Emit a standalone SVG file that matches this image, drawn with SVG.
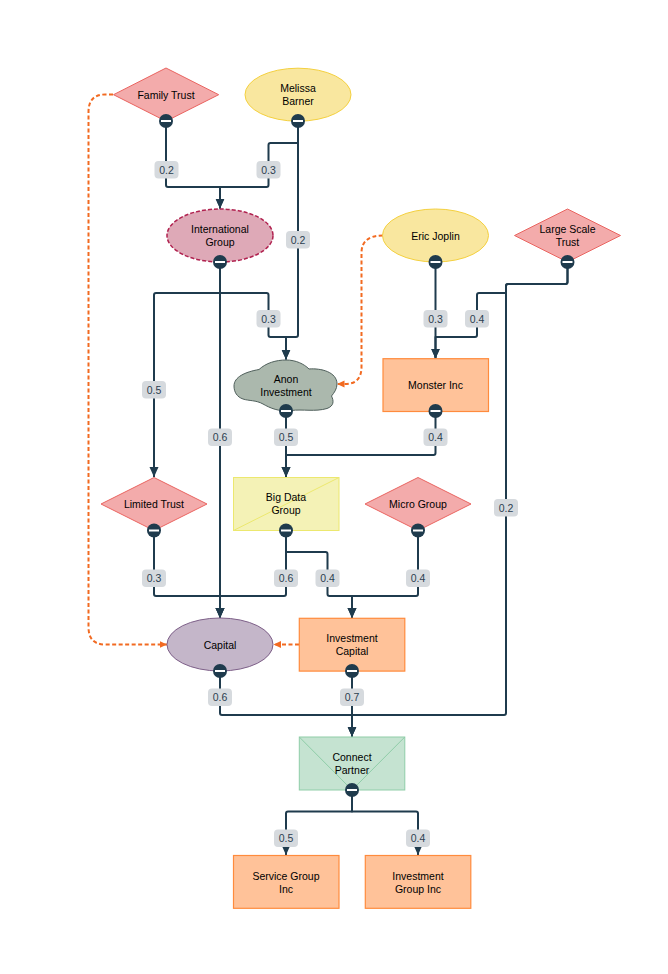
<svg xmlns="http://www.w3.org/2000/svg" width="668" height="974" viewBox="0 0 668 974">
<style>
text{font-family:"Liberation Sans",Arial,sans-serif;font-size:10.500px;text-anchor:middle;fill:#000}
.e{fill:none;stroke:#1f3b4d;stroke-width:2;stroke-linejoin:round}
.a{marker-end:url(#ah)}
.d{fill:none;stroke:#f26a21;stroke-width:2;stroke-dasharray:4 2.500;marker-end:url(#oh)}
.dia{fill:#f3abab;stroke:#ea6460;stroke-width:1}
.yel{fill:#f9e79f;stroke:#f4d03f;stroke-width:1}
.org{fill:#ffc299;stroke:#ff8b3d;stroke-width:1.200}
.lb rect{fill:#d6dade}
.lb text{fill:#2c3e50;font-size:10.500px}
</style>
<defs>
<marker id="ah" markerUnits="userSpaceOnUse" markerWidth="11" markerHeight="10" refX="10" refY="4.500" orient="auto"><path d="M0 0L10 4.500L0 9z" fill="#1f3b4d"/></marker>
<marker id="oh" markerUnits="userSpaceOnUse" markerWidth="8" markerHeight="8" refX="7.500" refY="3.500" orient="auto"><path d="M0 0L7.500 3.500L0 7z" fill="#f26a21"/></marker>
<g id="h"><circle r="7" fill="#1f3b4d"/><rect x="-5" y="-1" width="10" height="2" fill="#fff"/></g>
</defs>
<g id="connectors">
<path class="d" d="M113 94.500H105Q88.500 94.500 88.500 112V627Q88.500 644.500 105 644.500H167"/>
<path class="d" d="M383 235.500Q361.500 235.500 361.500 253V367Q361.500 384 345 384H337"/>
<path class="d" d="M299 644.500H273.500"/>
<path class="e a" d="M166 121V185Q166 187 168 187H220V208.500"/>
<path class="e a" d="M298 121V143H270.500Q268.500 143 268.500 145V185Q268.500 187 266.500 187H220V208.500"/>
<path class="e a" d="M298 121V335Q298 337 296 337H286V359.500"/>
<path class="e a" d="M220 262V618"/>
<path class="e a" d="M220 293H156Q154 293 154 295V477"/>
<path class="e a" d="M220 293H266.500Q268.500 293 268.500 295V335Q268.500 337 270.500 337H286V359.500"/>
<path class="e a" d="M435.500 262V358.500"/>
<path class="e a" d="M567.500 262V282Q567.500 284 565.500 284H508Q506 284 506 286V293H479Q477 293 477 295V335Q477 337 475 337H435.500V358.500"/>
<path class="e a" d="M567.500 262V282Q567.500 284 565.500 284H508Q506 284 506 286V713Q506 715 504 715H352V736.500"/>
<path class="e a" d="M286 411V477"/>
<path class="e a" d="M435.500 411V453Q435.500 455 433.500 455H286V477"/>
<path class="e a" d="M154 530V594Q154 596 156 596H220V618"/>
<path class="e a" d="M286 530V594Q286 596 284 596H220V618"/>
<path class="e a" d="M286 530V552H325.500Q327.500 552 327.500 554V594Q327.500 596 329.500 596H352V618"/>
<path class="e a" d="M418 530V594Q418 596 416 596H352V618"/>
<path class="e a" d="M220 671V713Q220 715 222 715H352V736.500"/>
<path class="e a" d="M352 671V736.500"/>
<path class="e a" d="M352 790V811.500H288Q286 811.500 286 813.500V855"/>
<path class="e a" d="M352 790V811.500H416Q418 811.500 418 813.500V855"/>
<g class="lb">
<g><rect x="154.500" y="161" width="24" height="17.500" rx="4"/><text x="166.500" y="173.500">0.2</text></g>
<g><rect x="256.500" y="161" width="24" height="17.500" rx="4"/><text x="268.500" y="173.500">0.3</text></g>
<g><rect x="286" y="231" width="24" height="17.500" rx="4"/><text x="298" y="243.500">0.2</text></g>
<g><rect x="256.500" y="310" width="24" height="17.500" rx="4"/><text x="268.500" y="322.500">0.3</text></g>
<g><rect x="423.500" y="310" width="24" height="17.500" rx="4"/><text x="435.500" y="322.500">0.3</text></g>
<g><rect x="465" y="310" width="24" height="17.500" rx="4"/><text x="477" y="322.500">0.4</text></g>
<g><rect x="142" y="381" width="24" height="17.500" rx="4"/><text x="154" y="393.500">0.5</text></g>
<g><rect x="208" y="428.500" width="24" height="17.500" rx="4"/><text x="220" y="441">0.6</text></g>
<g><rect x="274" y="428.500" width="24" height="17.500" rx="4"/><text x="286" y="441">0.5</text></g>
<g><rect x="423.500" y="428.500" width="24" height="17.500" rx="4"/><text x="435.500" y="441">0.4</text></g>
<g><rect x="494" y="499" width="24" height="17.500" rx="4"/><text x="506" y="511.500">0.2</text></g>
<g><rect x="142" y="569.500" width="24" height="17.500" rx="4"/><text x="154" y="582">0.3</text></g>
<g><rect x="274" y="569.500" width="24" height="17.500" rx="4"/><text x="286" y="582">0.6</text></g>
<g><rect x="315.500" y="569.500" width="24" height="17.500" rx="4"/><text x="327.500" y="582">0.4</text></g>
<g><rect x="406" y="569.500" width="24" height="17.500" rx="4"/><text x="418" y="582">0.4</text></g>
<g><rect x="208" y="688.500" width="24" height="17.500" rx="4"/><text x="220" y="701">0.6</text></g>
<g><rect x="340" y="688.500" width="24" height="17.500" rx="4"/><text x="352" y="701">0.7</text></g>
<g><rect x="274" y="829.500" width="24" height="17.500" rx="4"/><text x="286" y="842">0.5</text></g>
<g><rect x="406" y="829.500" width="24" height="17.500" rx="4"/><text x="418" y="842">0.4</text></g>
</g>
</g>
<g id="family-trust"><path class="dia" d="M113.500 94.700L166 68L218.700 94.700L166 121.200z"/><text x="166" y="98.500">Family Trust</text><use href="#h" x="166" y="121"/></g>
<g id="melissa-barner"><ellipse class="yel" cx="298" cy="94.700" rx="53" ry="26.500"/><text x="298" y="92">Melissa</text><text x="298" y="105">Barner</text><use href="#h" x="298" y="121"/></g>
<g id="international-group"><ellipse cx="220" cy="235.500" rx="53" ry="26.500" fill="#dea9b7" stroke="#b0214f" stroke-width="1.500" stroke-dasharray="4 2"/><text x="220" y="233">International</text><text x="220" y="246">Group</text><use href="#h" x="220" y="262"/></g>
<g id="eric-joplin"><ellipse class="yel" cx="435.500" cy="235.500" rx="53" ry="26.500"/><text x="435.500" y="239.500">Eric Joplin</text><use href="#h" x="435.500" y="262"/></g>
<g id="large-scale-trust"><path class="dia" d="M514.500 235.500L567.500 209L620.500 235.500L567.500 262z"/><text x="567.500" y="233">Large Scale</text><text x="567.500" y="246">Trust</text><use href="#h" x="567.500" y="262"/></g>
<g id="anon-investment"><path d="M234 386C234 377 245 372 259 369.500C266 363 276 360 286 360C296 360 304 364 309 369C321 368 337 372 337 384C337 389 334 393 331.500 396C334 401 334 406 327 408.500C315 412 303 409 291 410.500C279 412 270 408 263 404C256 400 249 401 243 399C237 397 234 392 234 386z" fill="#abb8ad" stroke="#4f5f5b" stroke-width="1"/><text x="286" y="382.500">Anon</text><text x="286" y="395.500">Investment</text><use href="#h" x="286" y="411"/></g>
<g id="monster-inc"><rect class="org" x="383" y="358.700" width="105.500" height="52.800"/><text x="435.500" y="389">Monster Inc</text><use href="#h" x="435.500" y="411"/></g>
<g id="limited-trust"><path class="dia" d="M101 504L154 477.500L207 504L154 530.500z"/><text x="154" y="508">Limited Trust</text><use href="#h" x="154" y="530.500"/></g>
<g id="big-data-group"><rect x="233.500" y="477.500" width="105.500" height="53" fill="#f4f2b6" stroke="#ece86f" stroke-width="1"/><path d="M233.500 530.500L339 477.500" stroke="#ece86f" fill="none" stroke-width="1"/><text x="286" y="501">Big Data</text><text x="286" y="514">Group</text><use href="#h" x="286" y="530.500"/></g>
<g id="micro-group"><path class="dia" d="M365 504L418 477.500L471 504L418 530.500z"/><text x="418" y="508">Micro Group</text><use href="#h" x="418" y="530.500"/></g>
<g id="capital"><ellipse cx="220" cy="644.500" rx="53" ry="26.500" fill="#c4b6c9" stroke="#7d5f88" stroke-width="1"/><text x="220" y="648.500">Capital</text><use href="#h" x="220" y="671"/></g>
<g id="investment-capital"><rect class="org" x="299.300" y="618.300" width="105.500" height="52.800"/><text x="352" y="642">Investment</text><text x="352" y="655">Capital</text><use href="#h" x="352" y="671"/></g>
<g id="connect-partner"><rect x="299.300" y="737" width="105.500" height="53" fill="#c5e3d1" stroke="#8fcda8" stroke-width="1"/><path d="M299.300 737L352 790L404.800 737" fill="none" stroke="#8fcda8" stroke-width="1"/><text x="352" y="761">Connect</text><text x="352" y="774">Partner</text><use href="#h" x="352" y="790"/></g>
<g id="service-group-inc"><rect class="org" x="233.500" y="855.500" width="105.500" height="52.800"/><text x="286" y="879.500">Service Group</text><text x="286" y="892.500">Inc</text></g>
<g id="investment-group-inc"><rect class="org" x="365.300" y="855.500" width="105.500" height="52.800"/><text x="418" y="879.500">Investment</text><text x="418" y="892.500">Group Inc</text></g>
</svg>
